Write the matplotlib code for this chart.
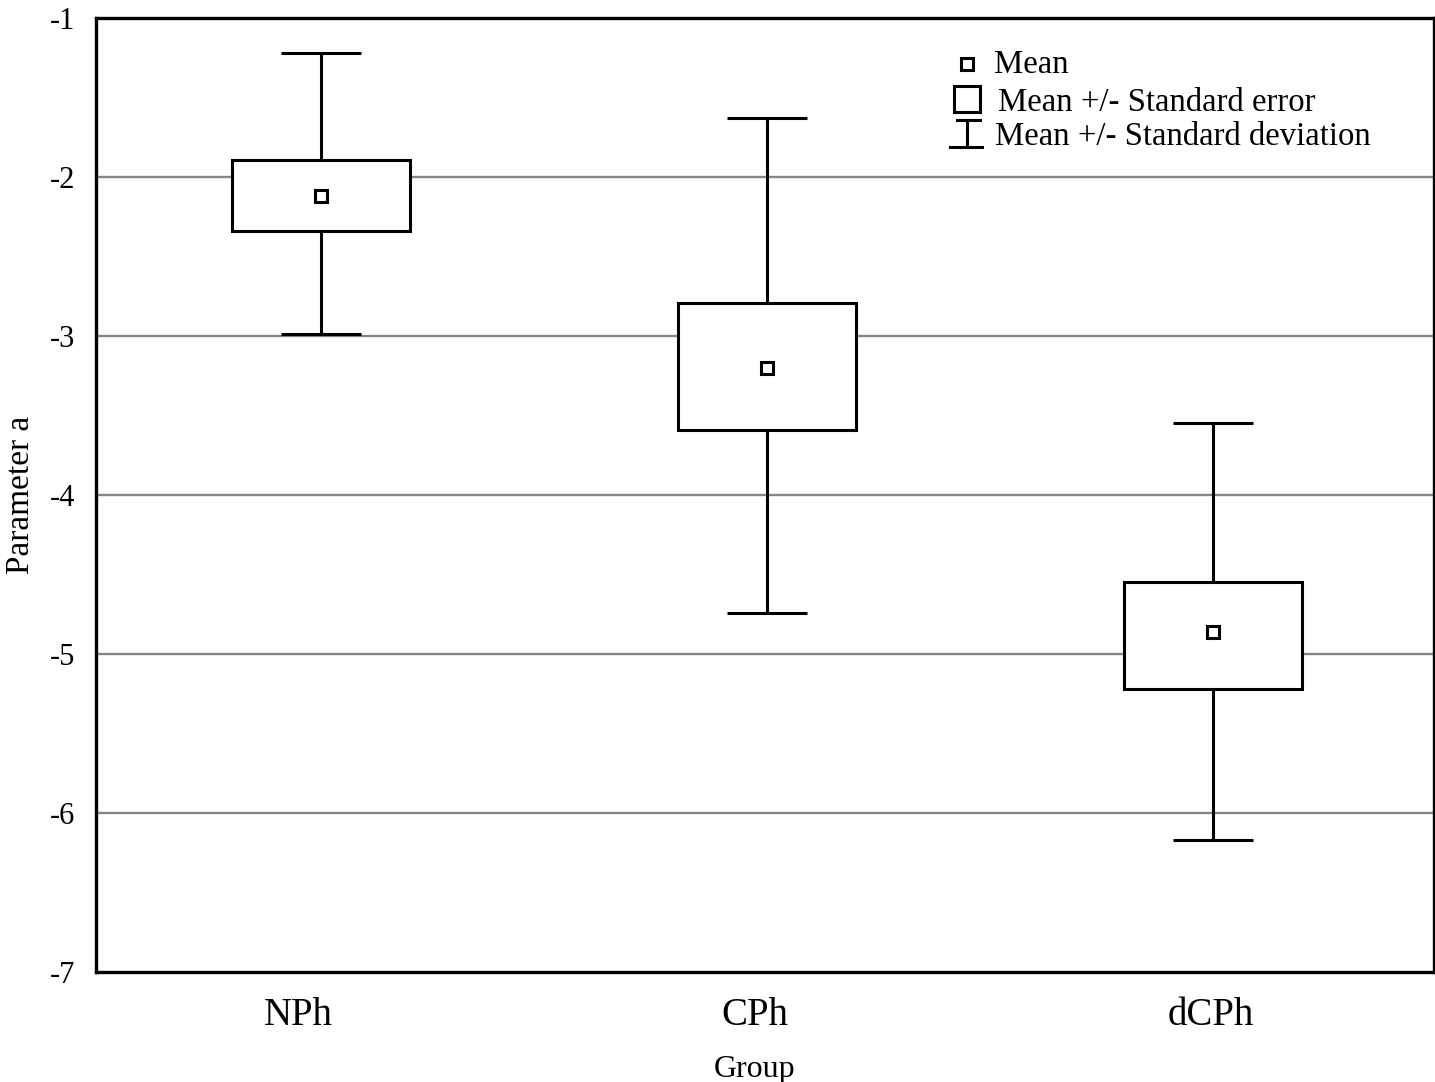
import matplotlib
matplotlib.use("Agg")
import matplotlib.pyplot as plt
import numpy as np

groups = ["NPh", "CPh", "dCPh"]
means = [-2.12, -3.20, -4.86]
se_hi = [-1.89, -2.79, -4.55]
se_lo = [-2.34, -3.59, -5.22]
sd_hi = [-1.22, -1.63, -3.55]
sd_lo = [-2.99, -4.74, -6.17]
yticks = [-7, -6, -5, -4, -3, -2, -1]
legend_labels = ["Mean", "Mean +/- Standard error", "Mean +/- Standard deviation"]

plt.rcParams['font.family'] = ['Liberation Serif', 'DejaVu Serif']

fig = plt.figure(figsize=(14.35, 10.82), dpi=100)
ax = fig.add_axes([96/1435, 1-972/1082, 1338/1435, 954/1082])

x = np.arange(len(groups))
lw = 2.2

# gridlines
for yv in yticks[1:-1]:
    ax.axhline(yv, color='#858585', lw=1.7, zorder=1)

# whiskers
ax.vlines(x + 0.005, sd_lo, sd_hi, color='black', lw=lw, zorder=2)
ax.hlines(sd_hi, x-0.085, x+0.095, color='black', lw=lw, zorder=2)
ax.hlines(sd_lo, x-0.085, x+0.095, color='black', lw=lw, zorder=2)

# SE boxes
heights = np.array(se_hi) - np.array(se_lo)
ax.bar(x + 0.005, heights, bottom=se_lo, width=0.40, facecolor='white',
       edgecolor='black', linewidth=lw, zorder=3)

# means
ax.plot(x + 0.005, means, ls='none', marker='s', ms=8.5, mfc='white', mec='black',
        mew=2.2, zorder=4)

ax.set_xlim(-0.5, 2.5)
ax.set_ylim(-7, -1)
ax.set_yticks(yticks)
ax.set_yticklabels([str(v) for v in yticks])
# label positions as in the reference (slightly left of the boxes)
ax.set_xticks(x + np.array([-0.047, -0.022, 0.0]))
ax.set_xticklabels(groups)
ax.tick_params(axis='y', length=0, pad=15, labelsize=22)
ax.tick_params(axis='x', length=0, pad=18, labelsize=28)
for s in ax.spines.values():
    s.set_linewidth(2.4)
    s.set_zorder(5)

ax.set_xlabel("Group", fontsize=23)
ax.xaxis.set_label_coords(0.4925, -0.0874)
ax.set_ylabel("Parameter a", fontsize=24)
ax.yaxis.set_label_coords(-0.0448, 0.5)

# legend (manual)
def ax_xy(px, py):
    return ((px-96)/1338, (972-py)/954)

t = ax.transAxes
mx, my = ax_xy(967, 64)
ax.plot([mx], [my], transform=t, marker='s', ms=8.5, mfc='white', mec='black',
        mew=2.2, clip_on=False, zorder=6)
bx, by = ax_xy(967, 99)
ax.plot([bx], [by], transform=t, marker='s', ms=19, mfc='white', mec='black',
        mew=2.2, clip_on=False, zorder=6)
# SD symbol
p1 = ax_xy(957, 120); p2 = ax_xy(980, 120)
ax.plot([p1[0], p2[0]], [p1[1], p2[1]], transform=t, color='black', lw=2.2, clip_on=False)
p1 = ax_xy(950, 147); p2 = ax_xy(982, 147)
ax.plot([p1[0], p2[0]], [p1[1], p2[1]], transform=t, color='black', lw=2.2, clip_on=False)
p1 = ax_xy(967, 120); p2 = ax_xy(967, 147)
ax.plot([p1[0], p2[0]], [p1[1], p2[1]], transform=t, color='black', lw=2.2, clip_on=False)

for (px, py), lab in zip([(994, 65), (998, 103), (995, 137)], legend_labels):
    tx, ty = ax_xy(px, py)
    ax.text(tx, ty, lab, transform=t, fontsize=23.6, ha='left', va='center')

fig.savefig("out.png", dpi=100)
